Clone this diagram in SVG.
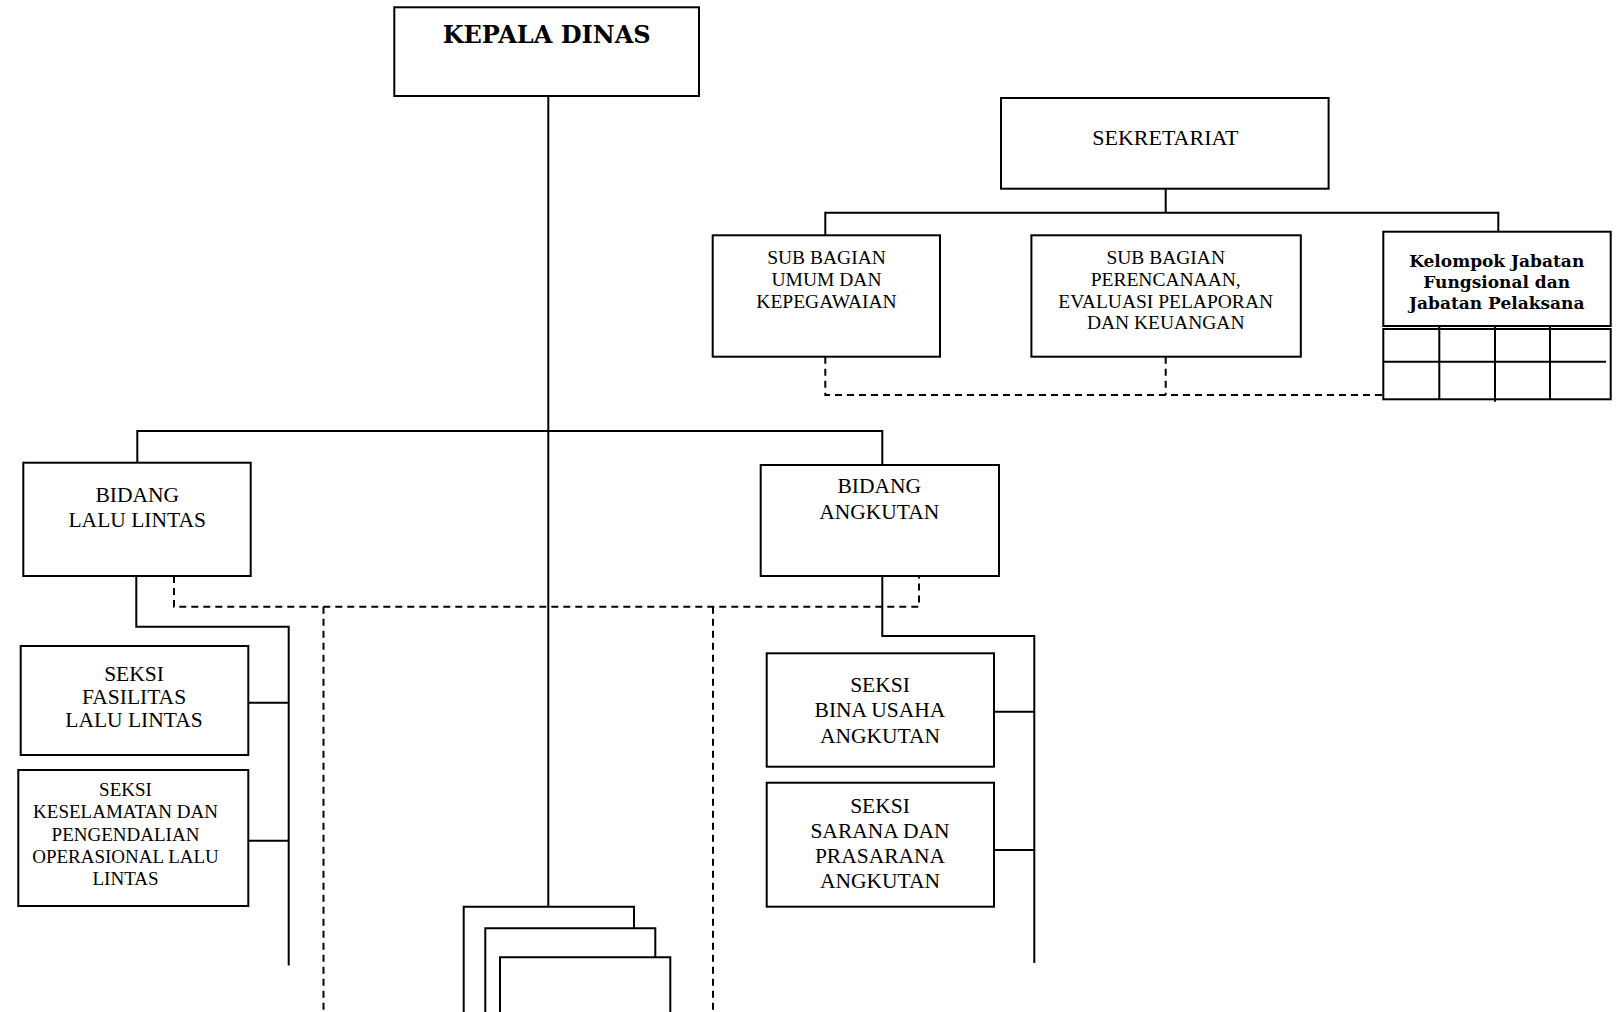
<svg xmlns="http://www.w3.org/2000/svg" width="1621" height="1012" viewBox="0 0 1621 1012">
<style>
.box{fill:#fff;stroke:#000;stroke-width:2}
.ln{fill:none;stroke:#000;stroke-width:2}
.dash{fill:none;stroke:#000;stroke-width:2;stroke-dasharray:7 5}
.t{font-family:"Liberation Serif","Times New Roman",serif;fill:#000;text-anchor:middle}
.b{font-family:"DejaVu Serif","Liberation Serif",serif;font-weight:bold;fill:#000;text-anchor:middle}
</style>
<rect width="1621" height="1012" fill="#fff"/>
<g id="connectors">
  <path class="ln" d="M548.3 96 V906.7"/>
  <path class="ln" d="M137.3 462.7 V431 H882.3 V465"/>
  <path class="ln" d="M1165.7 188.7 V212.7"/>
  <path class="ln" d="M825.3 235.3 V212.7 H1498.3 V231.7"/>
  <path class="ln" d="M136.3 576 V626.7 H288.7 V965.6"/>
  <path class="ln" d="M248.3 702.7 H288.7 M248.3 840.7 H288.7"/>
  <path class="ln" d="M882.3 576 V636 H1034.3 V963"/>
  <path class="ln" d="M994 711.7 H1034.3 M994 850 H1034.3"/>
  <path class="dash" d="M825.3 356.7 V395 H1383"/>
  <path class="dash" d="M1165.7 356.7 V395"/>
  <path class="dash" d="M174 576 V606.7 H919 V576"/>
  <path class="dash" d="M323.5 606.7 V1012"/>
  <path class="dash" d="M713 606.7 V1012"/>
</g>
<g id="kepala-dinas">
  <rect class="box" x="394.3" y="7.3" width="304.7" height="88.7"/>
  <text class="b" x="546.7" y="43.3" font-size="24" textLength="208" lengthAdjust="spacingAndGlyphs">KEPALA DINAS</text>
</g>
<g id="sekretariat">
  <rect class="box" x="1001" y="98" width="327.6" height="90.7"/>
  <text class="t" x="1165.3" y="145" font-size="22">SEKRETARIAT</text>
</g>
<g id="sub-bagian-umum">
  <rect class="box" x="712.7" y="235.3" width="227.3" height="121.4"/>
  <text class="t" font-size="19.5"><tspan x="826.5" y="264">SUB BAGIAN</tspan><tspan x="826.5" y="286">UMUM DAN</tspan><tspan x="826.5" y="307.5">KEPEGAWAIAN</tspan></text>
</g>
<g id="sub-bagian-perencanaan">
  <rect class="box" x="1031.4" y="235.3" width="269.4" height="121.4"/>
  <text class="t" font-size="19.5"><tspan x="1165.7" y="264">SUB BAGIAN</tspan><tspan x="1165.7" y="286">PERENCANAAN,</tspan><tspan x="1165.7" y="307.5">EVALUASI PELAPORAN</tspan><tspan x="1165.7" y="329.3">DAN KEUANGAN</tspan></text>
</g>
<g id="kelompok-jabatan">
  <rect class="box" x="1383.3" y="231.7" width="227.4" height="94.3"/>
  <text class="b" font-size="17"><tspan x="1496.7" y="266.7">Kelompok Jabatan</tspan><tspan x="1496.7" y="288.3">Fungsional dan</tspan><tspan x="1496.7" y="309.3">Jabatan Pelaksana</tspan></text>
  <rect class="box" x="1383.3" y="329" width="227.4" height="70.3"/>
  <path class="ln" d="M1439.3 326.7 V399.3 M1495 326.7 V401.7 M1550 326.7 V399.3 M1383.3 361.7 H1606"/>
</g>
<g id="bidang-lalu-lintas">
  <rect class="box" x="23.3" y="462.7" width="227.4" height="113.3"/>
  <text class="t" font-size="21.5"><tspan x="137.2" y="501.7">BIDANG</tspan><tspan x="137.2" y="526.7">LALU LINTAS</tspan></text>
</g>
<g id="bidang-angkutan">
  <rect class="box" x="760.7" y="465" width="238.3" height="111"/>
  <text class="t" font-size="21.5"><tspan x="879.3" y="493.3">BIDANG</tspan><tspan x="879.3" y="519.3">ANGKUTAN</tspan></text>
</g>
<g id="seksi-fasilitas">
  <rect class="box" x="20.7" y="646" width="227.6" height="109"/>
  <text class="t" font-size="21.5"><tspan x="134" y="680.7">SEKSI</tspan><tspan x="134" y="704">FASILITAS</tspan><tspan x="134" y="727.3">LALU LINTAS</tspan></text>
</g>
<g id="seksi-keselamatan">
  <rect class="box" x="18.3" y="770" width="230" height="136"/>
  <text class="t" font-size="19"><tspan x="125.5" y="795.7">SEKSI</tspan><tspan x="125.5" y="818.3">KESELAMATAN DAN</tspan><tspan x="125.5" y="840.7">PENGENDALIAN</tspan><tspan x="125.5" y="863.3">OPERASIONAL LALU</tspan><tspan x="125.5" y="885">LINTAS</tspan></text>
</g>
<g id="seksi-bina-usaha">
  <rect class="box" x="766.7" y="653.3" width="227.3" height="113.4"/>
  <text class="t" font-size="21.5"><tspan x="880" y="691.7">SEKSI</tspan><tspan x="880" y="717.3">BINA USAHA</tspan><tspan x="880" y="742.7">ANGKUTAN</tspan></text>
</g>
<g id="seksi-sarana">
  <rect class="box" x="766.7" y="782.7" width="227.3" height="124"/>
  <text class="t" font-size="21.5"><tspan x="880" y="813.3">SEKSI</tspan><tspan x="880" y="838.3">SARANA DAN</tspan><tspan x="880" y="863.3">PRASARANA</tspan><tspan x="880" y="888.3">ANGKUTAN</tspan></text>
</g>
<g id="uptd-stack">
  <path class="ln" d="M463.7 1012 V906.7 H634 V928.3"/>
  <path class="ln" d="M485.3 1012 V928.3 H655.3 V957.3"/>
  <path class="ln" d="M500 1012 V957.3 H670.3 V1012"/>
</g>
</svg>
